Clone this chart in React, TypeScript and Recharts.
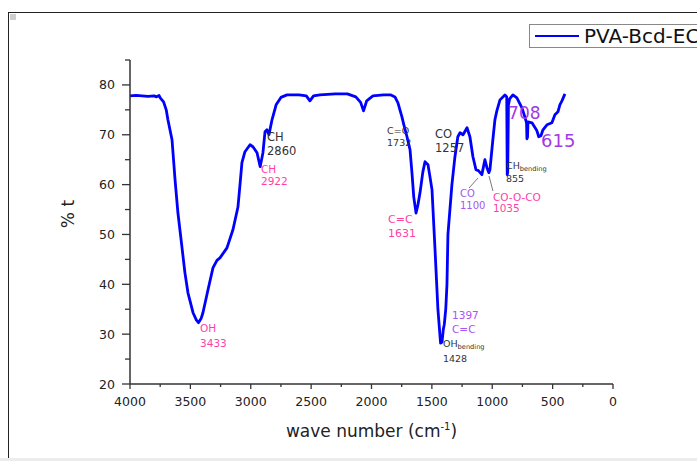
import React from 'react';
import { LineChart, Line, XAxis, YAxis, ReferenceDot, ReferenceLine, Label } from 'recharts';

const wavenumbers = [
  4000, 3950, 3900, 3850, 3800, 3780, 3760, 3750, 3722, 3700, 3686, 3652, 3627, 3603, 3570, 3545,
  3520, 3478, 3450, 3433, 3410, 3396, 3354, 3313, 3280, 3255, 3197, 3147, 3106, 3089, 3073, 3048,
  3006, 2982, 2948, 2922, 2899, 2882, 2866, 2849, 2824, 2790, 2750, 2700, 2600, 2540, 2510, 2480,
  2427, 2300, 2200, 2130, 2090, 2066, 2040, 1988, 1900, 1839, 1806, 1781, 1748, 1732, 1706, 1681,
  1665, 1650, 1631, 1615, 1598, 1575, 1557, 1532, 1516, 1499, 1474, 1450, 1428, 1416, 1405, 1397,
  1385, 1375, 1367, 1334, 1309, 1285, 1267, 1242, 1209, 1185, 1160, 1135, 1115, 1100, 1086, 1061,
  1044, 1028, 1019, 995, 978, 962, 936, 895, 880, 876, 872, 866, 856, 829, 796, 754, 730, 716, 713,
  708, 704, 671, 630, 615, 597, 580, 547, 506, 481, 456, 440, 423, 398,
];

const transmittance = [
  77.8, 77.9, 77.8, 77.7, 77.8, 77.6, 77.9, 77.4, 76.6, 75.0, 73.0, 69.0, 61.0, 54.3, 47.5, 42.3,
  38.3, 34.3, 32.8, 32.3, 33.2, 34.3, 38.9, 43.3, 44.8, 45.3, 47.3, 51.0, 55.5, 60.0, 64.4, 66.6,
  68.0, 67.6, 66.4, 63.6, 66.4, 70.6, 71.0, 70.0, 73.0, 76.0, 77.5, 78.0, 78.0, 77.8, 76.8, 77.8,
  78.0, 78.2, 78.2, 77.6, 76.5, 74.8, 76.8, 77.8, 78.0, 78.0, 77.6, 76.4, 73.6, 72.0, 69.6, 67.0,
  62.4, 57.5, 54.3, 56.0, 58.4, 62.5, 64.6, 64.0, 61.6, 59.0, 47.0, 35.0, 28.2, 28.4, 31.0, 32.0,
  35.0, 40.0, 50.0, 60.0, 65.6, 69.6, 70.4, 70.0, 71.4, 69.6, 65.6, 63.0, 62.8, 62.4, 62.0, 65.0,
  63.4, 62.4, 63.0, 69.0, 73.0, 74.8, 77.0, 78.0, 77.6, 62.0, 62.5, 76.0, 77.2, 78.0, 77.4, 75.4,
  73.6, 72.4, 69.2, 69.5, 72.6, 72.4, 70.8, 69.6, 69.8, 71.0, 72.0, 72.4, 74.0, 74.6, 76.0, 76.8,
  78.2,
];

const xTicks = [4000, 3750, 3500, 3250, 3000, 2750, 2500, 2250, 2000, 1750, 1500, 1250, 1000, 750, 500, 250, 0];
const yTicks = [20, 25, 30, 35, 40, 45, 50, 55, 60, 65, 70, 75, 80, 85];

const seriesName = 'PVA-Bcd-EC';

const PINK = '#ff3fa8';
const VIOLET = '#a238e6';
const LILAC = '#a955f0';
const DARK = '#333333';

type Ann = { wn: number; t: number; lines: string[]; sub?: string; color: string; size: number; gap: number };

const annotations: Ann[] = [
  { wn: 3420, t: 30.43, lines: ['OH', '3433'], color: PINK, size: 10.5, gap: 15 },
  { wn: 2915, t: 62.33, lines: ['CH', '2922'], color: PINK, size: 10.5, gap: 12 },
  { wn: 2865, t: 68.75, lines: ['CH', '2860'], color: DARK, size: 11.5, gap: 14 },
  { wn: 1871, t: 70.15, lines: ['C=O', '1732'], color: DARK, size: 9.5, gap: 12 },
  { wn: 1474, t: 69.35, lines: ['CO', '1257'], color: DARK, size: 11.5, gap: 14 },
  { wn: 1863, t: 52.3, lines: ['C=C', '1631'], color: PINK, size: 11, gap: 14 },
  { wn: 1333, t: 33.04, lines: ['1397', 'C=C'], color: LILAC, size: 10.5, gap: 14 },
  { wn: 1408, t: 27.42, lines: ['OH', '1428'], sub: 'bending', color: DARK, size: 9.5, gap: 15 },
  { wn: 1267, t: 57.51, lines: ['CO', '1100'], color: LILAC, size: 10, gap: 12 },
  { wn: 994, t: 56.71, lines: ['CO-O-CO', '1035'], color: PINK, size: 10.5, gap: 11 },
  { wn: 886, t: 63.13, lines: ['CH', '855'], sub: 'bending', color: DARK, size: 9.5, gap: 13 },
  { wn: 869, t: 73.16, lines: ['708'], color: VIOLET, size: 17, gap: 0 },
  { wn: 596, t: 67.54, lines: ['615'], color: VIOLET, size: 18, gap: 0 },
];

const leaders = [
  { from: { x: 1118, y: 61.32 }, to: { x: 1192, y: 59.32 } },
  { from: { x: 1027, y: 61.72 }, to: { x: 994, y: 58.72 } },
];

const FONT = '"DejaVu Sans", "Liberation Sans", Arial, sans-serif';

const data = wavenumbers.map((wn, i) => ({ wn, t: transmittance[i] }));

const XTick = (props: any) => {
  const { x, y, payload } = props;
  const major = payload.value % 500 === 0;
  return (
    <g>
      <line x1={x} x2={x} y1={y} y2={y + (major ? 5 : 3)} stroke="#333" strokeWidth={1.3} />
      {major && (
        <text x={x} y={y + 22} textAnchor="middle" fontSize={12.5} fill="#222" fontFamily={FONT}>
          {payload.value}
        </text>
      )}
    </g>
  );
};

const YTick = (props: any) => {
  const { x, y, payload } = props;
  const major = payload.value % 10 === 0;
  return (
    <g>
      <line x1={x - (major ? 8 : 5)} x2={x} y1={y} y2={y} stroke="#333" strokeWidth={1.3} />
      {major && (
        <text x={x - 15} y={y + 4.5} textAnchor="end" fontSize={12.5} fill="#222" fontFamily={FONT}>
          {payload.value}
        </text>
      )}
    </g>
  );
};

const makeShape = (a: Ann) => (props: any) => {
  const { cx, cy } = props;
  if (cx == null || cy == null) return <g />;
  return (
    <text x={cx} y={cy} fill={a.color} fontSize={a.size} fontFamily={FONT}>
      {a.lines.map((ln, i) => (
        <tspan key={i} x={cx} y={cy + i * a.gap}>
          {ln}
          {i === 0 && a.sub ? (
            <tspan fontSize={a.size * 0.7} dy={2}>
              {a.sub}
            </tspan>
          ) : null}
        </tspan>
      ))}
    </text>
  );
};

const XTitle = (props: any) => {
  const vb = props.viewBox || { x: 130, y: 384, width: 483 };
  const cx = vb.x + vb.width / 2;
  return (
    <text x={cx} y={vb.y + 53} textAnchor="middle" fontSize={17} fill="#222" fontFamily={FONT}>
      wave number (cm
      <tspan fontSize={10} dy={-7}>-1</tspan>
      <tspan dy={7}>)</tspan>
    </text>
  );
};

const YTitle = (props: any) => {
  const vb = props.viewBox || { x: 60, y: 60, height: 324 };
  const cx = 68;
  const cy = vb.y + vb.height / 2 - 8;
  return (
    <text
      x={cx}
      y={cy}
      transform={`rotate(-90, ${cx}, ${cy})`}
      textAnchor="middle"
      dominantBaseline="central"
      fontSize={17}
      fill="#222"
      fontFamily={FONT}
    >
      % t
    </text>
  );
};

export default function App() {
  return (
    <div
      style={{
        position: 'absolute',
        left: 0,
        top: 0,
        width: 697,
        height: 461,
        overflow: 'hidden',
        background: '#fff',
        fontFamily: FONT,
      }}
    >
      {/* frame */}
      <div style={{ position: 'absolute', left: 8, top: 12, width: 689, height: 0, borderTop: '1.5px solid #222' }} />
      <div style={{ position: 'absolute', left: 8, top: 12, width: 0, height: 449, borderLeft: '1.5px solid #222' }} />
      <div style={{ position: 'absolute', left: 10, top: 14, width: 6, height: 6, background: '#cfcfcf' }} />
      <div style={{ position: 'absolute', left: 0, top: 458, width: 697, height: 3, background: '#ececec' }} />

      <div style={{ position: 'absolute', left: 0, top: 0 }}>
        <LineChart width={697} height={461} data={data} margin={{ top: 60, right: 84, bottom: 27, left: 60 }}>
          <XAxis
            dataKey="wn"
            type="number"
            domain={[0, 4000]}
            reversed
            ticks={xTicks}
            interval={0}
            tick={<XTick />}
            tickLine={false}
            tickSize={0}
            tickMargin={0}
            height={50}
            axisLine={{ stroke: '#333', strokeWidth: 1.5 }}
          >
            <Label content={<XTitle />} />
          </XAxis>
          <YAxis
            type="number"
            domain={[20, 85]}
            ticks={yTicks}
            interval={0}
            tick={<YTick />}
            tickLine={false}
            tickSize={0}
            tickMargin={0}
            width={70}
            axisLine={{ stroke: '#333', strokeWidth: 1.5 }}
          >
            <Label content={<YTitle />} />
          </YAxis>
          <Line
            dataKey="t"
            name={seriesName}
            type="linear"
            stroke="#0000ff"
            strokeWidth={2.8}
            strokeLinejoin="round"
            dot={false}
            isAnimationActive={false}
          />
          {leaders.map((l, i) => (
            <ReferenceLine key={'l' + i} segment={[l.from, l.to]} stroke="#555" strokeWidth={0.8} />
          ))}
          {annotations.map((a, i) => (
            <ReferenceDot key={'a' + i} x={a.wn} y={a.t} r={0} shape={makeShape(a)} />
          ))}
        </LineChart>
      </div>

      {/* legend */}
      <div
        style={{
          position: 'absolute',
          left: 529,
          top: 24,
          width: 200,
          height: 22,
          border: '1px solid #888',
          background: '#fff',
        }}
      >
        <div style={{ position: 'absolute', left: 5, top: 10, width: 44, height: 0, borderTop: '2.5px solid #0000ff' }} />
        <div
          style={{
            position: 'absolute',
            left: 54,
            top: 0,
            fontSize: 20,
            lineHeight: '22px',
            color: '#111',
            whiteSpace: 'nowrap',
          }}
        >
          {seriesName}
        </div>
      </div>
    </div>
  );
}
